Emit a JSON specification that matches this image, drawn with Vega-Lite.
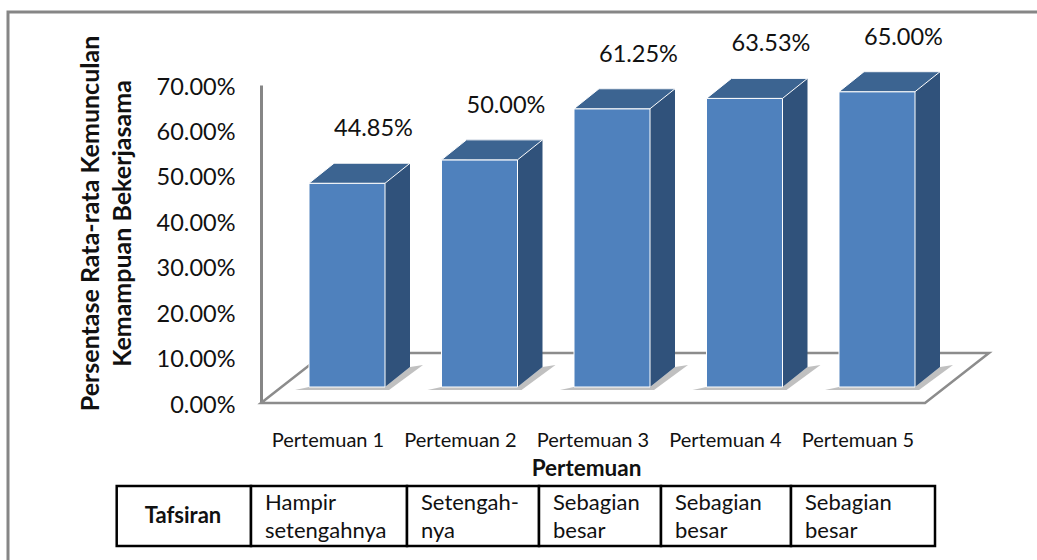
{
"$schema":"https://vega.github.io/schema/vega-lite/v6.json",
"width":1040,"height":552,"autosize":"none","padding":{"left":8,"top":12,"right":0,"bottom":0},
"background":"white",
"view":{"stroke":"#868686","strokeWidth":3,"fill":"white"},
"config":{"font":"Lato"},
"data":{"values":[
{"Pertemuan":"Pertemuan 1","nilai":0.4485},
{"Pertemuan":"Pertemuan 2","nilai":0.50},
{"Pertemuan":"Pertemuan 3","nilai":0.6125},
{"Pertemuan":"Pertemuan 4","nilai":0.6353},
{"Pertemuan":"Pertemuan 5","nilai":0.65}
]},
"resolve":{"scale":{"x":"independent","y":"independent"}},
"layer":[
{
"encoding":{
 "x":{"field":"Pertemuan","type":"nominal","sort":null,
  "scale":{"type":"band","range":[272.75,935.25],"paddingInner":0.4264,"paddingOuter":0.2132},
  "axis":{"orient":"bottom","offset":-139,"domain":false,"ticks":false,"labelAngle":0,"labelOffset":-19,"labelPadding":5,"labelFontSize":20,"labelColor":"#111","title":"Pertemuan","titleFontSize":22.5,"titleFontWeight":"bold","titleColor":"#111","titleX":578,"titleY":43,"titleBaseline":"middle","titleAlign":"center"}},
 "y":{"field":"nilai","type":"quantitative",
  "scale":{"domain":[0,0.7],"range":[391,73]},
  "axis":{"orient":"left","offset":-253,"values":[0,0.1,0.2,0.3,0.4,0.5,0.6,0.7],"format":".2%","grid":false,"ticks":false,"domain":true,"domainColor":"#868686","domainWidth":3,"labelPadding":26,"labelOffset":2,"labelFontSize":23.5,"labelColor":"#111",
   "title":["Persentase Rata-rata Kemunculan","Kemampuan Bekerjasama"],"titleFontSize":25,"titleFontWeight":"bold","titleColor":"#111","titleAngle":-90,"titleX":-171,"titleY":211,"titleAlign":"center","titleBaseline":"middle","titleLineHeight":32}}
},
"layer":[
 {"transform":[{"filter":"datum.Pertemuan=='Pertemuan 1'"}],
  "mark":{"type":"point","shape":"M-86,0 L-22,-50 L642,-50 L578,0 Z","size":4,"filled":true,"fill":"white","stroke":"#8c8c8c","strokeWidth":2.5,"opacity":1},
  "encoding":{"y":{"datum":0}}},
 {"mark":{"type":"point","shape":"M-52,-13 L-38,-16 L38,-16 L63,-36 L76,-38 L42,-13 Z","size":4,"filled":true,"fill":"#8c8c8c","strokeWidth":0,"opacity":0.55},
  "encoding":{"y":{"datum":0}}},
 {"mark":{"type":"bar","width":76,"xOffset":25,"yOffset":-36,"y2Offset":-36,"fill":"#30527B"}},
 {"mark":{"type":"point","shape":"M38,-16 L63,-36 L38,-36 Z","size":4,"filled":true,"fill":"#30527B","strokeWidth":0,"opacity":1},
  "encoding":{"y":{"datum":0}}},
 {"mark":{"type":"bar","width":76,"yOffset":-16,"y2Offset":-16,"fill":"#4F81BD","stroke":"white","strokeWidth":1}},
 {"mark":{"type":"point","shape":"M-38,-16 L-13,-36 L63,-36 L38,-16 Z","size":4,"filled":true,"fill":"#3C6491","stroke":"white","strokeWidth":1,"opacity":1}},
 {"mark":{"type":"text","dx":26.5,"dy":-70,"fontSize":23.5,"color":"#111","align":"center","baseline":"middle"},
  "encoding":{"text":{"field":"nilai","type":"quantitative","format":".2%"}}}
]
},
{
"data":{"values":[
{"kolom":0,"akhir":1,"teks":"Tafsiran","jenis":"judul"},
{"kolom":1,"akhir":2,"teks":"Hampir\nsetengahnya","jenis":"isi"},
{"kolom":2,"akhir":3,"teks":"Setengah-\nnya","jenis":"isi"},
{"kolom":3,"akhir":4,"teks":"Sebagian\nbesar","jenis":"isi"},
{"kolom":4,"akhir":5,"teks":"Sebagian\nbesar","jenis":"isi"},
{"kolom":5,"akhir":6,"teks":"Sebagian\nbesar","jenis":"isi"}
]},
"encoding":{
 "x":{"field":"kolom","type":"quantitative","scale":{"domain":[0,1,2,3,4,5,6],"range":[108.7,243,399,531,653,783,927]},"axis":null}
},
"layer":[
 {"mark":{"type":"rect","fill":"white","stroke":"black","strokeWidth":2.5},
  "encoding":{"x2":{"field":"akhir"},"y":{"datum":0,"scale":{"domain":[0,1],"range":[474,534]},"axis":null},"y2":{"datum":1}}},
 {"transform":[{"filter":"datum.jenis=='isi'"}],
  "mark":{"type":"text","align":"left","baseline":"middle","dx":14,"dy":17,"fontSize":22,"lineBreak":"\n","lineHeight":28,"color":"#111"},
  "encoding":{"text":{"field":"teks"},"y":{"datum":0,"scale":{"domain":[0,1],"range":[474,534]},"axis":null}}},
 {"transform":[{"filter":"datum.jenis=='judul'"}],
  "mark":{"type":"text","align":"left","baseline":"middle","dx":28,"dy":30,"fontSize":22,"fontWeight":"bold","color":"#111"},
  "encoding":{"text":{"field":"teks"},"y":{"datum":0,"scale":{"domain":[0,1],"range":[474,534]},"axis":null}}}
]
}
]
}
